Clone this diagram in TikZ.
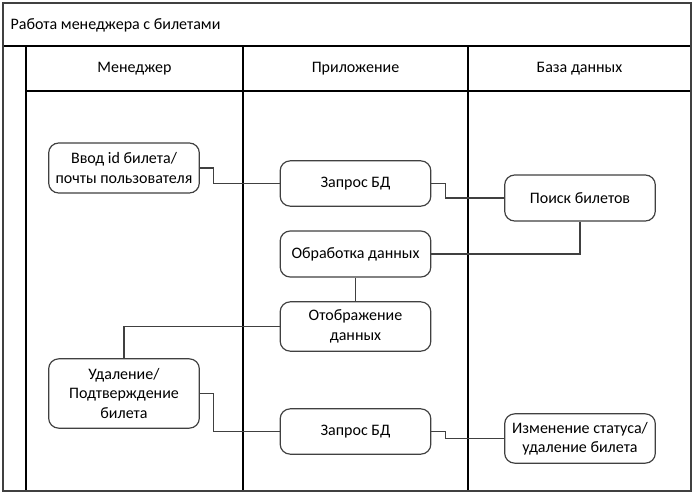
\documentclass[tikz,border=0pt]{standalone}
\usepackage{fontspec}
\setmainfont{Carlito}
\usepackage{tikz}
\usetikzlibrary{positioning, calc}
\tikzset{>=stealth}
\definecolor{mygray}{HTML}{404040}
\tikzset{
  lane/.style={line width=0.8pt, black},
  frame/.style={line width=1.3pt, mygray},
  stepbox/.style={draw=mygray, line width=0.9pt, rounded corners=7.5pt, fill=white,
    minimum width=113pt, align=center, inner sep=2pt, font=\fontsize{12}{14.5}\selectfont},
  link/.style={mygray, line width=0.8pt},
  lanetitle/.style={font=\fontsize{12}{14}\selectfont}
}
\begin{document}
\begin{tikzpicture}[x=0.75pt, y=-0.75pt]
			\useasboundingbox (0,0) rectangle (694,493);
			\draw [lane] (3,46) -- (691,46);
			\draw [lane] (26,91) -- (691,91);
			\draw [lane] (26,46) -- (26,491);
			\draw [lane] (243,46) -- (243,491);
			\draw [lane] (468,46) -- (468,491);
			\draw [frame] (3,3) rectangle (691,491);
			\node [lanetitle, anchor=west] (title) at (6,25) {Работа менеджера с билетами};
			\node [lanetitle] (manager) at (134.5,69) {Менеджер};
			\node [lanetitle] (app) at (355.5,69) {Приложение};
			\node [lanetitle] (db) at (579.5,69) {База данных};
			\node [stepbox, minimum height=37.5pt] (vvod) at (124,168) {Ввод id билета/\\почты пользователя};
			\node [stepbox, minimum height=34pt] (zap1) at (355.5,183.5) {Запрос БД};
			\node [stepbox, minimum height=34.5pt] (poisk) at (580,198) {Поиск билетов};
			\node [stepbox, minimum height=34.5pt] (obr) at (355.5,254) {Обработка данных};
			\node [stepbox, minimum height=37pt] (otobr) at (355.5,326.5) {Отображение\\данных};
			\node [stepbox, minimum height=52pt] (udal) at (124,393.5) {Удаление/\\Подтверждение\\билета};
			\node [stepbox, minimum height=34pt] (zap2) at (355.5,431.5) {Запрос БД};
			\node [stepbox, minimum height=37pt] (izm) at (580,438.5) {Изменение статуса/\\удаление билета};
			\draw [link] (vvod.east) -- ++(14,0) |- (zap1.west);
			\draw [link] (zap1.east) -- ++(14,0) |- (poisk.west);
			\draw [link] (poisk.south) |- (obr.east);
			\draw [link] (obr.south) -- (otobr.north);
			\draw [link] (otobr.west) -| (udal.north);
			\draw [link] (udal.east) -- ++(14,0) |- (zap2.west);
			\draw [link] (zap2.east) -- ++(14,0) |- (izm.west);
		\end{tikzpicture}
\end{document}
